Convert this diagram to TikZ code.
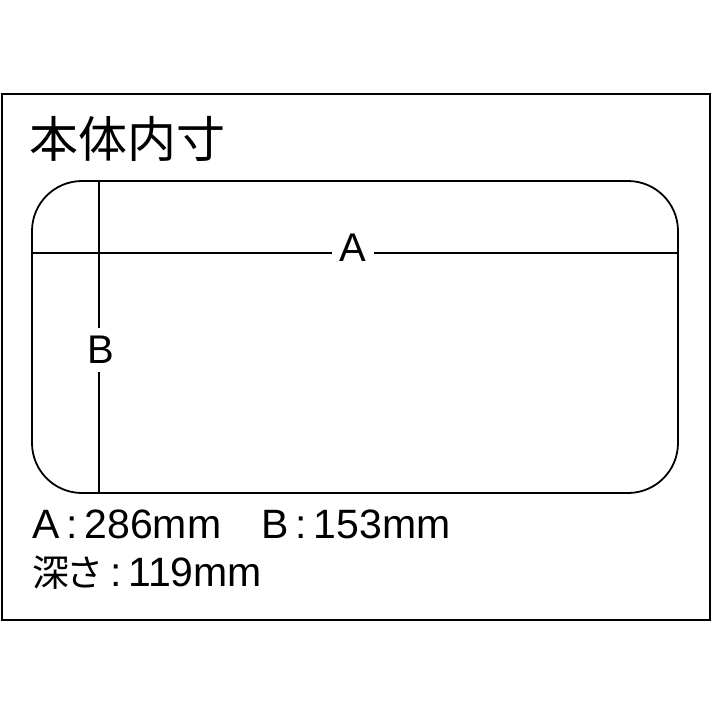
\documentclass[tikz,border=0pt]{standalone}
\usepackage{fontspec}
\setmainfont{Liberation Sans}
\newfontfamily\jpfont{Noto Sans CJK JP}
\begin{document}
\begin{tikzpicture}[x=1pt,y=-1pt,
  frame/.style={line width=2.6pt},
  body/.style={line width=1.8pt},
  dim/.style={line width=1.6pt},
  lbl/.style={font=\fontsize{40}{40}\selectfont, inner sep=0pt, anchor=center},
  info/.style={font=\fontsize{41}{41}\selectfont, inner sep=0pt, anchor=base west}]
\useasboundingbox (0,0) rectangle (713,713);
\fill[white] (0,0) rectangle (713,713);
\draw[frame] (2,94) rectangle (710,620);
\node[font=\jpfont\fontsize{49}{49}\selectfont, inner sep=0pt, anchor=west] (title) at (29,139) {本体内寸};
\draw[body, rounded corners=50pt] (32,181) rectangle (678,493);
\coordinate (hl) at (32,253);
\coordinate (hr) at (678,253);
\coordinate (vt) at (99,181);
\coordinate (vb) at (99,493);
\node[lbl, minimum width=42pt, minimum height=30pt] (A) at (353,248) {A};
\node[lbl, minimum width=22pt, minimum height=44pt] (B) at (101,350) {B};
\draw[dim] (hl) -- (332,253);
\draw[dim] (374,253) -- (hr);
\draw[dim] (vt) -- (99,328);
\draw[dim] (99,372) -- (vb);
\node[info] (dims) at (32,538) {A\,:\,286mm\hspace{40pt}B\,:\,153mm};
\node[info] (depth) at (32,586) {{\jpfont\fontsize{37}{37}\selectfont 深\kern-3pt さ}\,:\,119mm};
\end{tikzpicture}
\end{document}
